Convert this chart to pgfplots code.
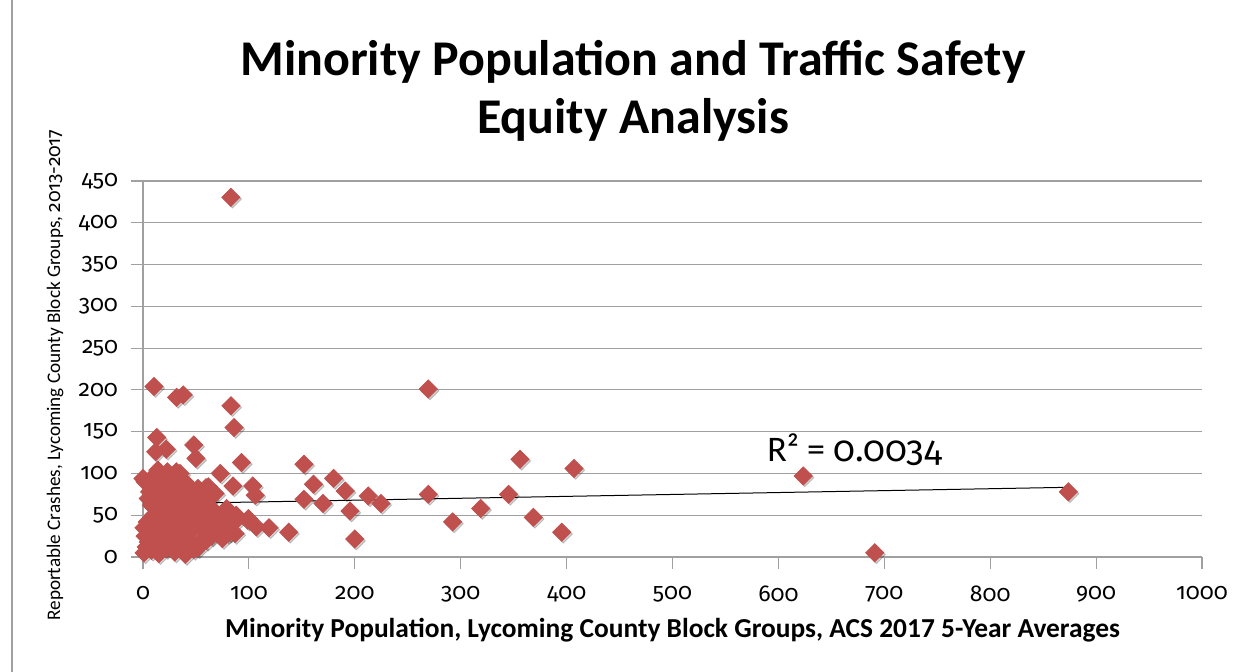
\documentclass[border=0pt]{standalone}
\usepackage{pgfplots}
\pgfplotsset{compat=1.18}
\usepackage{fontspec}
\setmainfont{Carlito}
\newfontfamily\numfont{Fira Sans}[Numbers=OldStyle]
\definecolor{markred}{RGB}{192,80,77}
\definecolor{gridgray}{RGB}{160,160,160}

% crashes vs minority population
\pgfplotstableread{
x y
83 430.5
10.4 204
31.8 191
38 194
83 181
86 155
13 143
22 129
12 126
48 134
50 118
93 113
73 100
59.5 83
85 85
103.6 85
106 74
99 44
107 36
119 35
137.6 29.6
61.7 84
52 82
65 58
99.5 46
87 28
52 11
269.4 201
152 111
161 87
180 94
152 69
170 64
191 79
195.5 55
200 21.5
212.8 73
224.7 64
269.4 75
292.4 42
318.9 58
345.3 75
356 117
368.6 47.5
395.4 29.6
407 106
623.5 97
873.8 78
691 5
1 5
3 12
5 18
8 8
12 15
15 4
18 20
22 10
26 16
30 6
33 22
37 12
40 3
44 18
48 9
55 20
2 25
6 30
1 35
4 42
7 28
10 50
13 38
16 58
19 30
22 45
25 55
28 36
31 48
34 28
37 60
40 40
43 52
46 32
49 45
52 58
55 35
58 48
61 28
64 55
67 40
70 50
73 35
76 45
79 58
82 30
85 40
88 50
60 20
65 25
70 30
75 22
80 28
2 90
5 70
8 82
11 98
14 66
17 88
20 75
23 102
26 68
29 92
32 80
35 100
38 72
41 88
44 65
47 78
50 70
55 66
62 70
68 76
25 85
8 62
30 65
14 104
31.5 102
0 94
6.3 78
}\crashdata

\begin{document}
\begin{tikzpicture}
\useasboundingbox (-71.5pt,-57.5pt) rectangle (547.5pt,278.5pt);
\draw[gridgray, line width=0.6pt] (-65.5pt,-57.5pt) -- (-65.5pt,278.5pt);
\begin{axis}[
  scale only axis, width=529.5pt, height=188pt,
  xmin=0, xmax=1000, ymin=0, ymax=450,
  xtick={0,100,...,1000}, ytick={0,50,...,450},
  axis x line*=bottom, axis y line*=left,
  axis line style={gridgray, line width=0.6pt},
  tick style={gridgray, line width=0.6pt},
  tick align=outside, major tick length=6pt,
  ymajorgrids, grid style={gridgray, line width=0.6pt},
  /pgf/number format/assume math mode=true,
  /pgf/number format/set thousands separator={},
  ticklabel style={font=\numfont\fontsize{11.5}{13}\selectfont},
  xticklabel style={yshift=-5pt},
  yticklabel style={xshift=-3pt},
  xlabel={\bfseries Minority Population, Lycoming County Block Groups, ACS 2017 5-Year Averages},
  xlabel style={font=\fontsize{13.7}{16}\selectfont, at={(axis description cs:0.5,-0.194)}, anchor=center},
  ylabel={Reportable Crashes, Lycoming County Block Groups, {\numfont 2013-2017}},
  ylabel style={font=\fontsize{9.6}{11}\selectfont, at={(axis description cs:-0.0831,0.484)}, anchor=center},
  clip=false,
]
% soft shadow under the markers
\addplot[only marks, mark=square*, mark size=3.2pt, color=black, opacity=0.18,
  every mark/.append style={xshift=0.8pt, yshift=-0.9pt, rotate=45}] table {\crashdata};
\addplot[only marks, mark=square*, mark size=3.2pt, color=markred,
  every mark/.append style={rotate=45}] table {\crashdata};
% linear trendline
\addplot[black, line width=0.5pt] coordinates {(0,63.4) (873.8,83.4)};
\node[font=\fontsize{18}{21}\selectfont] at (axis cs:672,128) {R² = {\numfont 0.0034}};
\end{axis}
\node[align=center, font=\fontsize{25}{29}\selectfont\bfseries] at (245pt,233pt)
  {Minority Population and Traffic Safety\\Equity Analysis};
\end{tikzpicture}
\end{document}
